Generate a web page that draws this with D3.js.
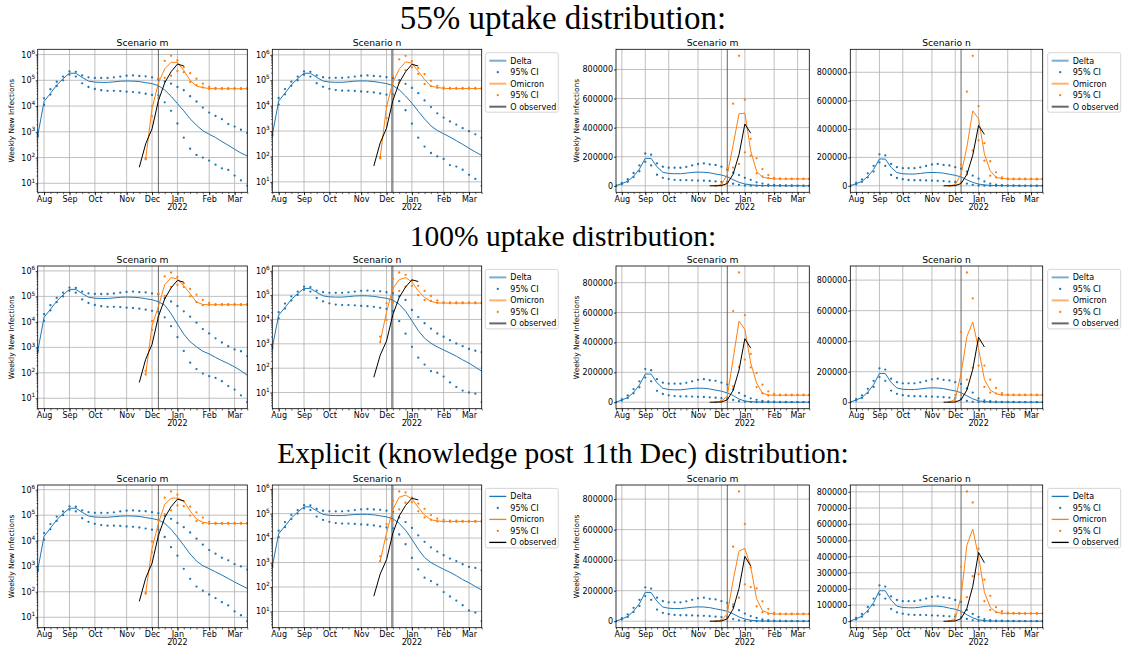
<!DOCTYPE html>
<html><head><meta charset="utf-8">
<script src="https://cdn.jsdelivr.net/npm/d3@7"></script>
<style>body{margin:0;background:#fff;} svg{display:block;font-family:"DejaVu Sans",sans-serif;}</style>
</head><body><svg id="c" width="1126" height="646"></svg>
<script>
// ---------------- DATA ----------------
const weekCount = 34; // weekly periods, index 0..33 (late Jul 2021 .. mid Mar 2022)
const monthTicks = [1, 5, 9, 14, 18, 22, 27, 31];
const monthLabels = ["Aug", "Sep", "Oct", "Nov", "Dec", "Jan", "Feb", "Mar"];
const yearLabel = "2022";
const rowTitles = ["55% uptake distribution:", "100% uptake distribution:", "Explicit (knowledge post 11th Dec) distribution:"];
const scenarioTitles = ["Scenario m", "Scenario n"];
const legendLabels = ["Delta", "95% CI", "Omicron", "95% CI", "O observed"];
const yAxisLabel = "Weekly New Infections";
const logTicks = [1e1, 1e2, 1e3, 1e4, 1e5, 1e6];
const linTickSteps = [200000, 200000, 200000, 200000, 200000, 100000];

const observedStart = 16;
const observed = [42, 340, 1300, 16000, 80000, 215000, 425000, 362000];
const omicronStart = 17;

// Row 1 (55% uptake) scenario m
const r1m_deltaMed = [700, 15000, 31000, 66000, 115000, 189000, 188000, 130000, 93000, 85000, 83000, 83000, 87000, 92000, 94000, 93000, 89000, 81000, 74000, 62000, 42000, 24000, 12500, 6500, 3200, 1800, 1100, 800, 600, 420, 300, 210, 150, 115];
const r1m_deltaUp  = [750, 20000, 45000, 88000, 140000, 222000, 214000, 154000, 131000, 124000, 124000, 124000, 130000, 140000, 150000, 154000, 147000, 143000, 131000, 110000, 90000, 74000, 55000, 41000, 24000, 15000, 8700, 5600, 4100, 3100, 2000, 1600, 1200, 900];
const r1m_deltaLo  = [650, 11000, 28000, 60000, 100000, 165000, 140000, 76000, 55000, 46000, 41000, 39000, 39000, 38000, 36000, 35000, 33000, 30000, 27000, 26000, 14000, 6500, 2100, 590, 220, 127, 100, 76, 53, 38, 33, 20, 13, 8];
const r1m_omiMed   = [90, 8000, 78000, 280000, 495000, 500000, 240000, 100000, 60000, 52000, 48000, 47000, 47000, 47000, 47000, 47000, 47000];
const r1m_omiUp    = [95, 10000, 120000, 565000, 894000, 592000, 323000, 189000, 115000, 74000, 55000, 51000, 50000, 50000, 50000, 50000, 50000];
const r1m_omiLo    = [85, 4000, 20000, 125000, 150000, 230000, 207000, 85000, 65000, 53000, 46000, 46000, 46000, 46000, 46000, 46000, 46000];

// Row 1 scenario n
const r1n_deltaMed = [700, 15000, 31000, 66000, 115000, 189000, 188000, 130000, 93000, 85000, 83000, 83000, 87000, 92000, 94000, 93000, 89000, 81000, 74000, 62000, 42000, 24000, 12500, 6000, 3000, 1600, 1050, 780, 580, 420, 300, 210, 150, 110];
const r1n_deltaUp  = [750, 20000, 45000, 88000, 140000, 222000, 214000, 154000, 131000, 124000, 124000, 124000, 130000, 140000, 150000, 154000, 147000, 143000, 131000, 120000, 100000, 72000, 50000, 31000, 16000, 8800, 5000, 3400, 2400, 1800, 1300, 980, 740, 550];
const r1n_deltaLo  = [650, 11000, 28000, 60000, 100000, 165000, 140000, 76000, 55000, 46000, 41000, 39000, 39000, 38000, 36000, 35000, 33000, 30000, 27000, 28000, 15000, 6600, 1950, 550, 245, 137, 100, 80, 46, 40, 30, 19, 13, 7];
const r1n_omiMed   = [90, 9000, 83000, 272000, 528000, 473000, 225000, 106000, 59000, 52000, 48000, 47000, 47000, 47000, 47000, 47000, 47000];
const r1n_omiUp    = [95, 9600, 149000, 663000, 916000, 561000, 300000, 173000, 95000, 60000, 52000, 50000, 50000, 50000, 50000, 50000, 50000];
const r1n_omiLo    = [85, 3200, 25000, 80000, 248000, 320000, 177000, 71000, 59000, 50000, 46000, 46000, 46000, 46000, 46000, 46000, 46000];

// Row 2 (100% uptake) scenario m
const r2m_deltaMed = [700, 15000, 31000, 66000, 115000, 189000, 188000, 130000, 93000, 85000, 83000, 83000, 87000, 92000, 94000, 93000, 89000, 81000, 74000, 62000, 45000, 21000, 8100, 3300, 1650, 1050, 700, 550, 400, 300, 230, 170, 120, 80];
const r2m_deltaUp  = [750, 20000, 45000, 88000, 140000, 222000, 214000, 154000, 131000, 124000, 124000, 124000, 130000, 140000, 150000, 154000, 147000, 143000, 131000, 120000, 85000, 63000, 42000, 26000, 16000, 9300, 5200, 3500, 2250, 1550, 1100, 830, 700, 450];
const r2m_deltaLo  = [650, 11000, 28000, 60000, 100000, 165000, 140000, 76000, 55000, 46000, 41000, 39000, 39000, 38000, 36000, 35000, 33000, 30000, 27000, 25000, 15000, 6800, 2500, 720, 250, 140, 93, 74, 63, 47, 30, 22, 13, 7];
const r2m_omiMed   = [87, 7000, 40000, 290000, 542000, 487000, 262000, 128000, 60000, 48000, 47000, 47000, 47000, 47000, 47000, 47000, 47000];
const r2m_omiUp    = [120, 11000, 130000, 610000, 868000, 583000, 323000, 195000, 117000, 72000, 55000, 50000, 50000, 50000, 50000, 50000, 50000];
const r2m_omiLo    = [85, 4800, 15000, 105000, 235000, 285000, 233000, 101000, 60000, 45000, 46000, 46000, 46000, 46000, 46000, 46000, 46000];

// Row 2 scenario n
const r2n_deltaMed = [700, 15000, 31000, 66000, 115000, 189000, 188000, 130000, 93000, 85000, 83000, 83000, 87000, 92000, 94000, 93000, 89000, 81000, 74000, 62000, 42000, 22000, 9000, 3500, 1700, 1050, 750, 560, 420, 310, 220, 160, 110, 75];
const r2n_deltaUp  = [750, 20000, 45000, 88000, 140000, 222000, 214000, 154000, 131000, 124000, 124000, 124000, 130000, 140000, 150000, 154000, 147000, 143000, 131000, 120000, 90000, 63000, 24500, 12600, 7000, 4200, 2650, 1950, 1400, 1030, 800, 620, 520, 450];
const r2n_deltaLo  = [650, 11000, 28000, 60000, 100000, 165000, 140000, 76000, 55000, 46000, 41000, 39000, 39000, 38000, 36000, 35000, 33000, 30000, 27000, 22000, 8500, 2600, 750, 270, 140, 75, 65, 45, 26, 17, 12, 10, 9, 4];
const r2n_omiMed   = [1200, 20000, 187000, 430000, 525000, 350000, 150000, 80000, 55000, 48000, 47000, 47000, 47000, 47000, 47000, 47000, 47000];
const r2n_omiUp    = [1950, 46000, 460000, 850000, 680000, 400000, 240000, 148000, 93000, 60000, 52000, 50000, 50000, 50000, 50000, 50000, 50000];
const r2n_omiLo    = [1180, 9600, 49000, 148000, 225000, 240000, 100000, 63000, 58000, 48000, 46000, 46000, 46000, 46000, 46000, 46000, 46000];

// Row 3 (explicit) scenario m
const r3m_deltaMed = [700, 15000, 31000, 66000, 115000, 189000, 188000, 130000, 93000, 85000, 83000, 83000, 87000, 92000, 94000, 93000, 89000, 81000, 74000, 65000, 48000, 28000, 14000, 6500, 3000, 1600, 1050, 800, 600, 450, 330, 240, 180, 135];
const r3m_deltaUp  = [750, 20000, 45000, 88000, 140000, 222000, 214000, 154000, 131000, 124000, 124000, 124000, 130000, 140000, 150000, 154000, 147000, 143000, 131000, 120000, 95000, 72000, 50000, 34000, 21000, 12000, 7000, 4300, 3100, 2150, 1700, 1200, 980, 740];
const r3m_deltaLo  = [650, 11000, 28000, 60000, 100000, 165000, 140000, 76000, 55000, 46000, 41000, 39000, 39000, 38000, 36000, 35000, 33000, 30000, 27000, 27000, 14000, 5600, 2600, 790, 320, 160, 110, 78, 56, 39, 29, 17, 12, 7];
const r3m_omiMed   = [90, 5000, 48000, 268000, 459000, 477000, 356000, 147000, 70000, 53000, 48000, 47000, 47000, 47000, 47000, 47000, 47000];
const r3m_omiUp    = [95, 9300, 63000, 488000, 850000, 637000, 352000, 215000, 130000, 81000, 55000, 50000, 50000, 50000, 50000, 50000, 50000];
const r3m_omiLo    = [83, 3500, 16000, 110000, 154000, 242000, 224000, 97000, 59000, 48000, 46000, 46000, 46000, 46000, 46000, 46000, 46000];

// Row 3 scenario n
const r3n_deltaMed = [700, 15000, 31000, 66000, 115000, 189000, 188000, 130000, 93000, 85000, 83000, 83000, 87000, 92000, 94000, 93000, 89000, 81000, 74000, 62000, 40000, 21000, 9000, 3500, 1600, 1000, 720, 530, 400, 290, 200, 150, 105, 75];
const r3n_deltaUp  = [750, 20000, 45000, 88000, 140000, 222000, 214000, 154000, 131000, 124000, 124000, 124000, 130000, 140000, 150000, 154000, 147000, 143000, 131000, 120000, 70000, 45000, 26000, 13000, 7000, 4200, 2800, 2000, 1450, 1150, 850, 660, 600, 480];
const r3n_deltaLo  = [650, 11000, 28000, 60000, 100000, 165000, 140000, 76000, 55000, 46000, 41000, 39000, 39000, 38000, 36000, 35000, 33000, 30000, 27000, 25000, 14000, 5600, 1550, 530, 240, 175, 124, 62, 41, 28, 18, 11, 9, 4];
const r3n_omiMed   = [1150, 16000, 150000, 470000, 570000, 398000, 180000, 87000, 56000, 50000, 48000, 48000, 48000, 48000, 48000, 48000, 48000];
const r3n_omiUp    = [1800, 37000, 336000, 802000, 734000, 448000, 257000, 157000, 87000, 62000, 55000, 52000, 51000, 50000, 50000, 50000, 50000];
const r3n_omiLo    = [1150, 8700, 54000, 148000, 278000, 290000, 124000, 70000, 56000, 48000, 46000, 46000, 46000, 46000, 46000, 46000, 46000];

const datasets = [
  {dMed: r1m_deltaMed, dUp: r1m_deltaUp, dLo: r1m_deltaLo, oMed: r1m_omiMed, oUp: r1m_omiUp, oLo: r1m_omiLo},
  {dMed: r1n_deltaMed, dUp: r1n_deltaUp, dLo: r1n_deltaLo, oMed: r1n_omiMed, oUp: r1n_omiUp, oLo: r1n_omiLo},
  {dMed: r2m_deltaMed, dUp: r2m_deltaUp, dLo: r2m_deltaLo, oMed: r2m_omiMed, oUp: r2m_omiUp, oLo: r2m_omiLo},
  {dMed: r2n_deltaMed, dUp: r2n_deltaUp, dLo: r2n_deltaLo, oMed: r2n_omiMed, oUp: r2n_omiUp, oLo: r2n_omiLo},
  {dMed: r3m_deltaMed, dUp: r3m_deltaUp, dLo: r3m_deltaLo, oMed: r3m_omiMed, oUp: r3m_omiUp, oLo: r3m_omiLo},
  {dMed: r3n_deltaMed, dUp: r3n_deltaUp, dLo: r3n_deltaLo, oMed: r3n_omiMed, oUp: r3n_omiUp, oLo: r3n_omiLo}
];
const knowledgeWeek = 19;
const knowledgeWeekAlt = 18.8;

// ---------------- LAYOUT ----------------
const svg = d3.select("#c");
const colX = [[37.7, 247.3], [272.3, 481.7], [616, 809.3], [850.3, 1042.7]];
const rowY = [[49.3, 192.3], [266, 408.7], [485, 627.7]];
const titleY = [28.5, 246, 463];
const titleSize = [33, 29.5, 29.5];
const BLUE = "#1f77b4", ORANGE = "#ff7f0e";
const GRID = "#b0b0b0";
let clipN = 0;

svg.append("rect").attr("width", 1126).attr("height", 646).attr("fill", "#fff");

function drawPanel(px, py, ds, isLog, title, showYLabel, altLine, linStep) {
  const [x0, x1] = px, [y0, y1] = py;
  const g = svg.append("g");
  const x = d3.scaleLinear().domain([0, weekCount - 1]).range([x0, x1]);
  const all = [].concat(ds.dMed, ds.dUp, ds.dLo, ds.oMed, ds.oUp, ds.oLo, observed);
  const mn = d3.min(all), mx = d3.max(all);
  let y, yt;
  if (isLog) {
    const a = Math.log10(mn), b = Math.log10(mx), p = 0.05 * (b - a);
    y = d3.scaleLog().domain([10 ** (a - p), 10 ** (b + p)]).range([y1, y0]);
    yt = logTicks.filter(t => t >= y.domain()[0] && t <= y.domain()[1]);
  } else {
    const p = 0.05 * (mx - mn);
    y = d3.scaleLinear().domain([mn - p, mx + p]).range([y1, y0]);
    yt = d3.range(0, mx + p, linStep);
  }
  // grid
  g.append("g").selectAll("line").data(monthTicks).join("line")
    .attr("x1", d => x(d)).attr("x2", d => x(d)).attr("y1", y0).attr("y2", y1)
    .attr("stroke", GRID).attr("stroke-width", 0.8);
  g.append("g").selectAll("line").data(yt).join("line")
    .attr("x1", x0).attr("x2", x1).attr("y1", d => y(d)).attr("y2", d => y(d))
    .attr("stroke", GRID).attr("stroke-width", 0.8);
  // clip
  const cid = "clip" + (clipN++);
  svg.append("clipPath").attr("id", cid).append("rect")
    .attr("x", x0).attr("y", y0).attr("width", x1 - x0).attr("height", y1 - y0);
  const p = g.append("g").attr("clip-path", `url(#${cid})`);
  // knowledge lines
  if (altLine) {
    p.append("line").attr("x1", x(knowledgeWeekAlt)).attr("x2", x(knowledgeWeekAlt)).attr("y1", y0).attr("y2", y1)
      .attr("stroke", "#9a9a9a").attr("stroke-width", 1.2);
  }
  p.append("line").attr("x1", x(knowledgeWeek)).attr("x2", x(knowledgeWeek)).attr("y1", y0).attr("y2", y1)
    .attr("stroke", "#555").attr("stroke-width", 0.9);

  const line = (start) => d3.line().x((d, i) => x(start + i)).y(d => y(d));
  const dots = (arr, start, color) => p.append("g").selectAll("circle").data(arr).join("circle")
    .attr("cx", (d, i) => x(start + i)).attr("cy", d => y(d)).attr("r", 1.15).attr("fill", color);

  p.append("path").datum(ds.dMed).attr("d", line(0)).attr("fill", "none").attr("stroke", BLUE).attr("stroke-width", 1);
  dots(ds.dUp, 0, BLUE);
  dots(ds.dLo, 0, BLUE);
  p.append("path").datum(ds.oMed).attr("d", line(omicronStart)).attr("fill", "none").attr("stroke", ORANGE).attr("stroke-width", 1);
  dots(ds.oUp, omicronStart, ORANGE);
  dots(ds.oLo, omicronStart, ORANGE);
  p.append("path").datum(observed).attr("d", line(observedStart)).attr("fill", "none").attr("stroke", "#000").attr("stroke-width", 1);

  // spines
  g.append("rect").attr("x", x0).attr("y", y0).attr("width", x1 - x0).attr("height", y1 - y0)
    .attr("fill", "none").attr("stroke", "#000").attr("stroke-width", 0.8);

  // x axis
  const xa = g.append("g").attr("transform", `translate(0,${y1})`)
    .call(d3.axisBottom(x).tickValues(monthTicks).tickFormat((d, i) => monthLabels[i]).tickSize(3).tickPadding(0.8));
  xa.select(".domain").remove();
  xa.selectAll("text").attr("font-size", 8).attr("font-family", "DejaVu Sans").attr("fill", "#000");
  xa.selectAll("line").attr("stroke-width", 0.8);
  const xm = g.append("g").attr("transform", `translate(0,${y1})`)
    .call(d3.axisBottom(x).tickValues(d3.range(weekCount)).tickFormat("").tickSize(1.8));
  xm.select(".domain").remove();
  xm.selectAll("line").attr("stroke-width", 0.6);
  g.append("text").attr("x", x(monthTicks[5])).attr("y", y1 + 17.5).attr("text-anchor", "middle")
    .attr("font-size", 8).text(yearLabel);

  // y axis
  const ya = g.append("g").attr("transform", `translate(${x0},0)`)
    .call(d3.axisLeft(y).tickValues(yt).tickFormat("").tickSize(2));
  ya.select(".domain").remove();
  ya.selectAll("line").attr("stroke-width", 0.8);
  if (isLog) {
    const minor = [];
    for (let e = 0; e <= 6; e++) for (let k = 2; k <= 9; k++) {
      const v = k * 10 ** e; if (v > y.domain()[0] && v < y.domain()[1]) minor.push(v);
    }
    const ym = g.append("g").attr("transform", `translate(${x0},0)`)
      .call(d3.axisLeft(y).tickValues(minor).tickFormat("").tickSize(1.2));
    ym.select(".domain").remove();
    ym.selectAll("line").attr("stroke-width", 0.6);
    const lab = g.append("g").selectAll("text").data(yt).join("text")
      .attr("x", x0 - 2.5).attr("y", d => y(d) + 3).attr("text-anchor", "end").attr("font-size", 8);
    lab.append("tspan").text("10");
    lab.append("tspan").attr("dy", -3.8).attr("font-size", 5.8).text(d => String(Math.round(Math.log10(d))));
  } else {
    g.append("g").selectAll("text").data(yt).join("text")
      .attr("x", x0 - 3).attr("y", d => y(d) + 3).attr("text-anchor", "end").attr("font-size", 8)
      .text(d => d3.format("d")(d));
  }
  if (showYLabel) {
    const lx = isLog ? x0 - 23.5 : x0 - 37.5;
    g.append("text").attr("transform", `translate(${lx},${(y0 + y1) / 2}) rotate(-90)`)
      .attr("text-anchor", "middle").attr("font-size", 7.4).text(yAxisLabel);
  }
  g.append("text").attr("x", (x0 + x1) / 2).attr("y", y0 - 3.5).attr("text-anchor", "middle")
    .attr("font-size", 9.2).text(title);
}

function drawLegend(lx, ly, faded) {
  const g = svg.append("g").attr("transform", `translate(${lx},${ly})`);
  g.append("rect").attr("x", 0).attr("y", 0).attr("width", 73).attr("height", 59.5).attr("rx", 2)
    .attr("fill", "#fff").attr("stroke", "#cccccc").attr("stroke-width", 0.8);
  const colors = [BLUE, BLUE, ORANGE, ORANGE, "#000"];
  const kinds = ["line", "dot", "line", "dot", "line"];
  legendLabels.forEach((t, i) => {
    const yy = 8 + i * 11.5;
    if (kinds[i] === "line") {
      g.append("line").attr("x1", 4).attr("x2", 21).attr("y1", yy).attr("y2", yy)
        .attr("stroke", colors[i]).attr("stroke-width", faded ? 2 : 1.3).attr("stroke-opacity", faded ? 0.6 : 1);
    } else {
      g.append("circle").attr("cx", 12.5).attr("cy", yy).attr("r", 1.15).attr("fill", colors[i]);
    }
    g.append("text").attr("x", 25).attr("y", yy + 3).attr("font-size", 8).text(t);
  });
}

for (let r = 0; r < 3; r++) {
  svg.append("text").attr("x", 563).attr("y", titleY[r]).attr("text-anchor", "middle")
    .attr("font-family", "Liberation Serif, serif").attr("font-size", titleSize[r]).text(rowTitles[r]);
  for (let s = 0; s < 2; s++) {
    const ds = datasets[r * 2 + s];
    const step = linTickSteps[r * 2 + s];
    drawPanel(colX[s], rowY[r], ds, true, scenarioTitles[s], s === 0, s === 1, step);
    drawPanel(colX[2 + s], rowY[r], ds, false, scenarioTitles[s], s === 0, false, step);
  }
  drawLegend(485.3, rowY[r][0] + 3.4, r < 2);
  drawLegend(1047.7, rowY[r][0] + 3.4, r < 2);
}
</script></body></html>
